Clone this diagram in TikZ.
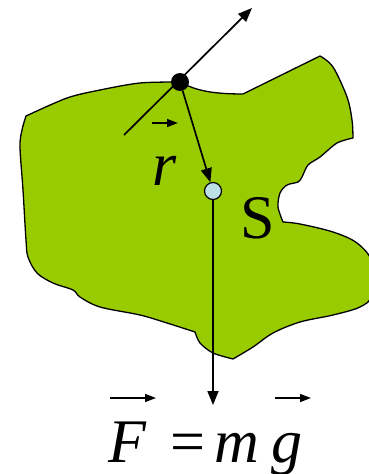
\documentclass[tikz,border=0pt]{standalone}
\usepackage{fontspec}
\setmainfont{Liberation Serif}
\usepackage{xcolor}
\usetikzlibrary{arrows.meta, calc}
\definecolor{bodygreen}{RGB}{153,204,0}
\definecolor{cmblue}{RGB}{187,224,230}
\tikzset{
  bodyshape/.style={draw, line width=1.3pt, fill=bodygreen, line join=round},
  forcearrow/.style={-{Triangle[length=14pt, width=11pt]}, line width=1.7pt},
  vecmark/.style={-{Triangle[length=11pt, width=8pt]}, line width=1.5pt},
  pointdot/.style={circle, fill=black, minimum size=18pt, inner sep=0pt},
  centerdot/.style={circle, draw, line width=1.2pt, fill=cmblue, minimum size=17pt, inner sep=0pt},
  biglabel/.style={font=\fontsize{62}{62}\selectfont, inner sep=0pt},
  eqlabel/.style={font=\fontsize{62}{62}\selectfont, inner sep=0pt, anchor=base west},
}
\begin{document}
\begin{tikzpicture}[x=1pt, y=-1pt]
  \useasboundingbox (0,0) rectangle (369,474);

  % rigid body outline
  \draw[bodyshape] (180,82)
    .. controls (195,90) and (210,94) .. (243,94)
    -- (320,56)
    -- plot[smooth, tension=0.55] coordinates {(320,56) (333,67) (347,97) (352,120) (353,138)}
    -- plot[smooth, tension=0.5] coordinates {(353,138) (337,143) (320,157) (308,165) (302,177) (298,182) (287,185) (280,193) (278,207) (283,222)}
    -- plot[smooth, tension=0.55] coordinates {(283,222) (300,224) (333,232) (357,243) (372,262) (372,295) (360,307) (333,315) (300,322) (273,333) (253,347) (233,359)}
    -- plot[smooth, tension=0.5] coordinates {(233,359) (213,353) (200,343) (195,332)}
    -- plot[smooth, tension=0.55] coordinates {(195,332) (167,323) (140,315) (100,307) (80,297) (73,290) (53,283) (37,273) (28,257) (26,240) (23,190) (20,147) (22,130) (26,116)}
    -- plot[smooth, tension=0.5] coordinates {(26,116) (67,98) (100,90) (140,83) (180,82)}
    -- cycle;

  % points
  \coordinate (tail) at (124,135);
  \coordinate (tip) at (252,8);
  \coordinate (weight) at (213,405);
  \node[centerdot] (cm) at (213,191) {};

  % arrows
  \draw[forcearrow] (tail) -- (tip);
  \node[pointdot] (pt) at (180,82) {};
  \draw[forcearrow] (pt) -- (cm);
  \draw[forcearrow] (cm) -- (weight);

  % labels
  \node[biglabel] (rlab) at (165,171) {\itshape r};
  \draw[vecmark] (152,123) -- (178,123);
  \node[biglabel] (slab) at (258,218) {S};

  \node[eqlabel] (Flab) at (108,462) {\itshape F};
  \node[eqlabel] (eqlab) at (170,462) {=};
  \node[eqlabel] (mlab) at (214,462) {\itshape m};
  \node[eqlabel] (glab) at (271,462) {\itshape g};
  \draw[vecmark] (110,398) -- (156,398);
  \draw[vecmark] (275,398) -- (311,398);
\end{tikzpicture}
\end{document}
